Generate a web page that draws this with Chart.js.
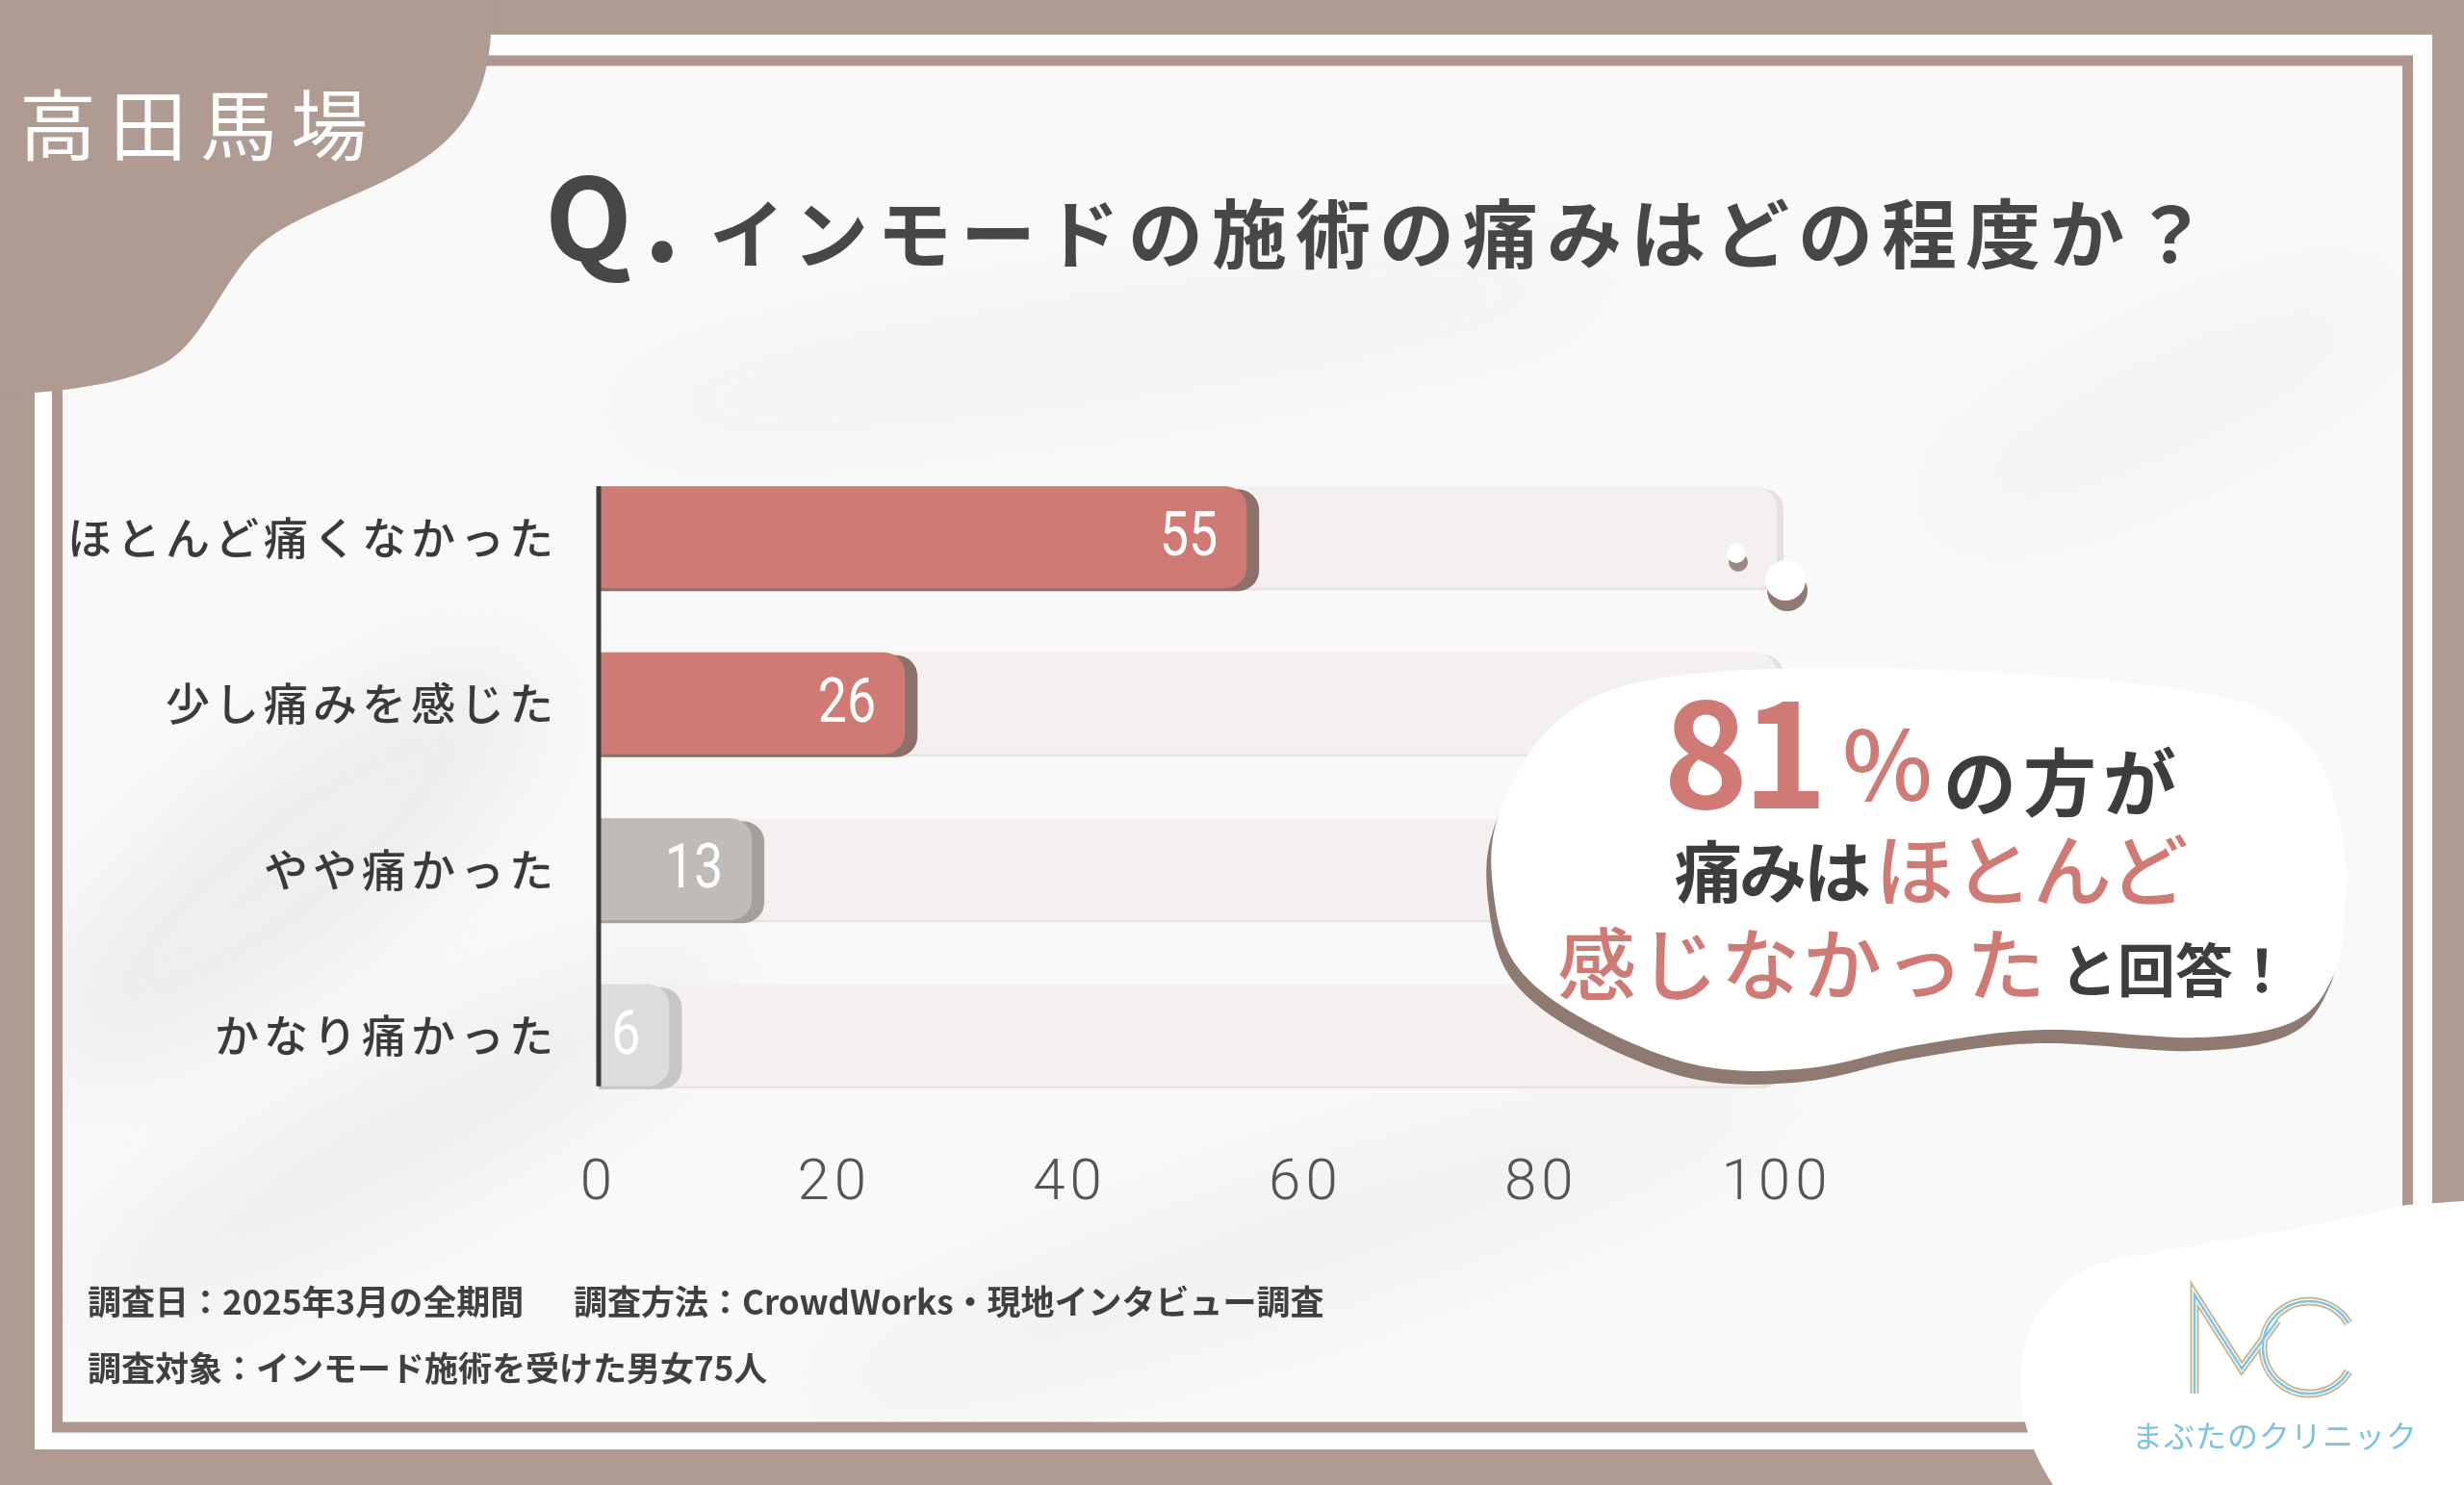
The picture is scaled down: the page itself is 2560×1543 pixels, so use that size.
<!DOCTYPE html>
<html lang="ja">
<head>
<meta charset="utf-8">
<script src="https://cdn.jsdelivr.net/npm/chart.js@4.4.1/dist/chart.umd.min.js"></script>
<style>
html, body { margin: 0; padding: 0; width: 2560px; height: 1543px; overflow: hidden; background: #b09b92; }
#stage { position: relative; width: 2560px; height: 1543px; }
.layer { position: absolute; left: 0; top: 0; width: 2560px; height: 1543px; }
#chartBox { position: absolute; left: 0; top: 0; width: 2560px; height: 1543px; }
.t { position: absolute; line-height: 1; white-space: nowrap; font-family: "Noto Sans CJK JP", sans-serif; }
</style>
</head>
<body>
<div id="stage">
  <svg class="layer" id="bg" viewBox="0 0 2560 1543">
    <defs>
      <filter id="soft" x="-50%" y="-50%" width="200%" height="200%"><feGaussianBlur stdDeviation="45"/></filter>
      <clipPath id="inner"><rect x="65" y="69" width="2432" height="1409"/></clipPath>
    </defs>
    <rect x="36" y="36" width="2491" height="1470" fill="#fdfdfd"/>
    <rect x="65" y="69" width="2432" height="1409" fill="#f9f9f9"/>
    <g clip-path="url(#inner)">
      <g filter="url(#soft)" opacity="0.6">
        <ellipse cx="300" cy="900" rx="320" ry="110" transform="rotate(-38 300 900)" fill="#e6e6e6"/>
        <ellipse cx="420" cy="1180" rx="380" ry="80" transform="rotate(-28 420 1180)" fill="#e9e9e9"/>
        <ellipse cx="1150" cy="360" rx="520" ry="50" transform="rotate(-8 1150 360)" fill="#ededed"/>
        <ellipse cx="1350" cy="1290" rx="520" ry="70" transform="rotate(-18 1350 1290)" fill="#ececec"/>
        <ellipse cx="2250" cy="420" rx="260" ry="60" transform="rotate(-25 2250 420)" fill="#efefef"/>
      </g>
    </g>
    <rect x="59.5" y="63" width="2442" height="1420" fill="none" stroke="#ad978e" stroke-width="11"/>
    <path d="M0,0 L520,0 L510,36 C506,95 485,135 440,165 C380,205 300,222 262,262 C228,300 212,350 175,375 C135,398 80,404 36,408 L0,410 Z" fill="#b09b92"/>
  </svg>

  <div id="chartBox"><canvas id="painChart"></canvas></div>

  <svg class="layer" id="fg" viewBox="0 0 2560 1543">
    <path id="bubbleShade" fill="#8f7a72"/>
    <path id="bubble" fill="#ffffff"/>
    <circle cx="1806" cy="584" r="10" fill="#9c8b85"/>
    <circle cx="1804" cy="575" r="10" fill="#ffffff"/>
    <circle cx="1857" cy="614" r="21" fill="#8f7a72"/>
    <circle cx="1855" cy="603" r="21" fill="#ffffff"/>
    <path d="M2560,1248 L2500,1252 C2420,1272 2320,1288 2205,1307 C2135,1320 2102,1372 2100,1430 C2098,1480 2115,1515 2133,1543 L2560,1543 Z" fill="#ffffff"/>
    <g fill="none" stroke-linejoin="miter">
      <g stroke="#c9b68f" stroke-width="9">
        <path d="M2280,1448 L2280,1345 L2329,1422 L2366,1372"/>
        <path d="M2440,1375 A48,48 0 1 0 2440,1425"/>
      </g>
      <g stroke="#ffffff" stroke-width="5">
        <path d="M2280,1448 L2280,1345 L2329,1422 L2366,1372"/>
        <path d="M2440,1375 A48,48 0 1 0 2440,1425"/>
      </g>
      <g stroke="#7fc3e4" stroke-width="2.5">
        <path d="M2280,1448 L2280,1345 L2329,1422 L2366,1372"/>
        <path d="M2440,1375 A48,48 0 1 0 2440,1425"/>
      </g>
    </g>
  </svg>

  <div class="t" style="left:20px;top:85px;font-size:80px;color:#ffffff;letter-spacing:14px;font-weight:400">高田馬場</div>
  <div class="t" style="left:566px;top:161px;font-size:118px;color:#474747;font-weight:700;letter-spacing:12px">Q.</div>
  <div class="t" style="left:737px;top:200px;font-size:78px;color:#474747;font-weight:700;letter-spacing:9px">インモードの施術の痛みはどの程度か？</div>

  <div class="t" style="left:1728px;top:700px;font-size:150px;color:#cf7a74;font-weight:600;letter-spacing:-6px">81</div>
  <div class="t" style="left:1914px;top:739px;font-size:100px;color:#cf7a74;font-weight:500">%</div>
  <div class="t" style="left:2019px;top:771px;font-size:76px;color:#3d3d3d;font-weight:700;letter-spacing:7px">の方が</div>
  <div class="t" style="left:1740px;top:868px;font-size:70px;color:#3d3d3d;font-weight:700;letter-spacing:-3px">痛みは</div>
  <div class="t" style="left:1948px;top:859px;font-size:82px;color:#cf7a74;font-weight:500">ほとんど</div>
  <div class="t" style="left:1618px;top:957px;font-size:82px;color:#cf7a74;font-weight:500;letter-spacing:3px">感じなかった</div>
  <div class="t" style="left:2140px;top:975px;font-size:60px;color:#3d3d3d;font-weight:700">と回答！</div>

  <div class="t" style="left:91px;top:1333px;font-size:35px;color:#404040;font-weight:700">調査日：2025年3月の全期間</div>
  <div class="t" style="left:596px;top:1333px;font-size:35px;color:#404040;font-weight:700">調査方法：CrowdWorks・現地インタビュー調査</div>
  <div class="t" style="left:91px;top:1402px;font-size:35px;color:#404040;font-weight:700">調査対象：インモード施術を受けた男女75人</div>

  <div class="t" style="left:2215px;top:1474px;font-size:32px;color:#7cc2e2;letter-spacing:1px">まぶたのクリニック</div>
</div>

<script>
// data
var categories = ["ほとんど痛くなかった", "少し痛みを感じた", "やや痛かった", "かなり痛かった"];
var painValues = [55, 26, 13, 6];
var trackValues = [100, 100, 100, 100];
var xTicks = [0, 20, 40, 60, 80, 100];

// styles
var barFill = ["#cf7a74", "#cf7a74", "#bebbb9", "#dddcdc"];
var barShade = ["#8c716a", "#8c716a", "#a29f9d", "#c7c6c6"];

// callout bubble outline
function smoothPath(pts) {
  var n = pts.length;
  var d = "M" + pts[0][0] + "," + pts[0][1];
  for (var i = 0; i < n; i++) {
    var p0 = pts[(i - 1 + n) % n], p1 = pts[i], p2 = pts[(i + 1) % n], p3 = pts[(i + 2) % n];
    var c1x = p1[0] + (p2[0] - p0[0]) / 6, c1y = p1[1] + (p2[1] - p0[1]) / 6;
    var c2x = p2[0] - (p3[0] - p1[0]) / 6, c2y = p2[1] - (p3[1] - p1[1]) / 6;
    d += " C" + c1x + "," + c1y + " " + c2x + "," + c2y + " " + p2[0] + "," + p2[1];
  }
  return d + "Z";
}
var bubblePts = [[1552, 930], [1556, 850], [1608, 759], [1698, 710], [1878, 694], [2123, 702],
  [2319, 727], [2400, 776], [2433, 865], [2436, 947], [2425, 1012], [2384, 1061], [2286, 1078],
  [2123, 1070], [1992, 1086], [1878, 1110], [1764, 1107], [1649, 1061], [1576, 1004]];
var bubbleD = smoothPath(bubblePts);
document.getElementById("bubble").setAttribute("d", bubbleD);
var shade = document.getElementById("bubbleShade");
shade.setAttribute("d", bubbleD);
shade.setAttribute("transform", "translate(-5,14)");

// plugins
var spacing = {
  id: "spacing",
  beforeDraw: function (chart) { chart.ctx.letterSpacing = "5px"; }
};

var barShadow = {
  id: "barShadow",
  beforeDatasetDraw: function (chart, args) {
    var ctx = chart.ctx;
    args.meta.data.forEach(function (el, i) {
      var h = el.height;
      var dx = args.index === 0 ? 7 : 13;
      var dy = args.index === 0 ? 2 : 3;
      ctx.save();
      ctx.fillStyle = args.index === 0 ? "#e4e1e0" : barShade[i];
      ctx.beginPath();
      ctx.roundRect(el.base, el.y - h / 2 + dy, el.x - el.base + dx, h, [0, 22, 22, 0]);
      ctx.fill();
      ctx.restore();
    });
  }
};

var barExtras = {
  id: "barExtras",
  afterDatasetsDraw: function (chart) {
    var ctx = chart.ctx;
    var meta = chart.getDatasetMeta(1);
    meta.data.forEach(function (el, i) {
      ctx.save();
      ctx.letterSpacing = "0px";
      ctx.fillStyle = "#ffffff";
      ctx.font = "400 64px Roboto, sans-serif";
      ctx.textAlign = "right";
      ctx.textBaseline = "middle";
      ctx.translate(el.x - 30, el.y + 3);
      ctx.scale(0.84, 1);
      ctx.fillText(String(painValues[i]), 0, 0);
      ctx.restore();
    });
    var first = meta.data[0], last = meta.data[meta.data.length - 1];
    var x0 = chart.scales.x.getPixelForValue(0);
    ctx.save();
    ctx.strokeStyle = "#3b3b3b";
    ctx.lineWidth = 5;
    ctx.beginPath();
    ctx.moveTo(x0, first.y - first.height / 2);
    ctx.lineTo(x0, last.y + last.height / 2);
    ctx.stroke();
    ctx.restore();
  }
};

Chart.defaults.font.family = '"Noto Sans CJK JP", sans-serif';

var painCtx = document.getElementById("painChart").getContext("2d");
var painChart = new Chart(painCtx, {
  type: "bar",
  data: {
    labels: categories,
    datasets: [
      {
        label: "track",
        data: trackValues,
        backgroundColor: "#f3f0ef",
        borderRadius: 22,
        borderSkipped: "start",
        grouped: false,
        order: 2,
        categoryPercentage: 1,
        barPercentage: 0.615,
      },
      {
        label: "痛み",
        data: painValues,
        backgroundColor: barFill,
        borderRadius: 22,
        borderSkipped: "start",
        grouped: false,
        order: 1,
        categoryPercentage: 1,
        barPercentage: 0.615,
      },
    ],
  },
  options: {
    indexAxis: "y",
    responsive: true,
    maintainAspectRatio: false,
    devicePixelRatio: 1,
    animation: false,
    layout: { padding: { left: 0, right: 714, top: 472, bottom: 261 } },
    plugins: { legend: { display: false }, tooltip: { enabled: false } },
    scales: {
      x: {
        min: 0,
        max: 100,
        grid: { display: false, drawTicks: false },
        border: { display: false },
        afterBuildTicks: function (s) { s.ticks = xTicks.map(function (v) { return { value: v }; }); },
        afterFit: function (s) { s.height = 120; },
        ticks: { color: "#555555", padding: 33, font: { family: "Roboto, sans-serif", size: 60, weight: 300 } },
      },
      y: {
        grid: { display: false, drawTicks: false },
        border: { display: false },
        afterFit: function (s) { s.width = 622; },
        ticks: { color: "#3a3a3a", padding: 42, font: { size: 46, weight: 500 } },
      },
    },
  },
  plugins: [spacing, barShadow, barExtras],
});
</script>
</body>
</html>
